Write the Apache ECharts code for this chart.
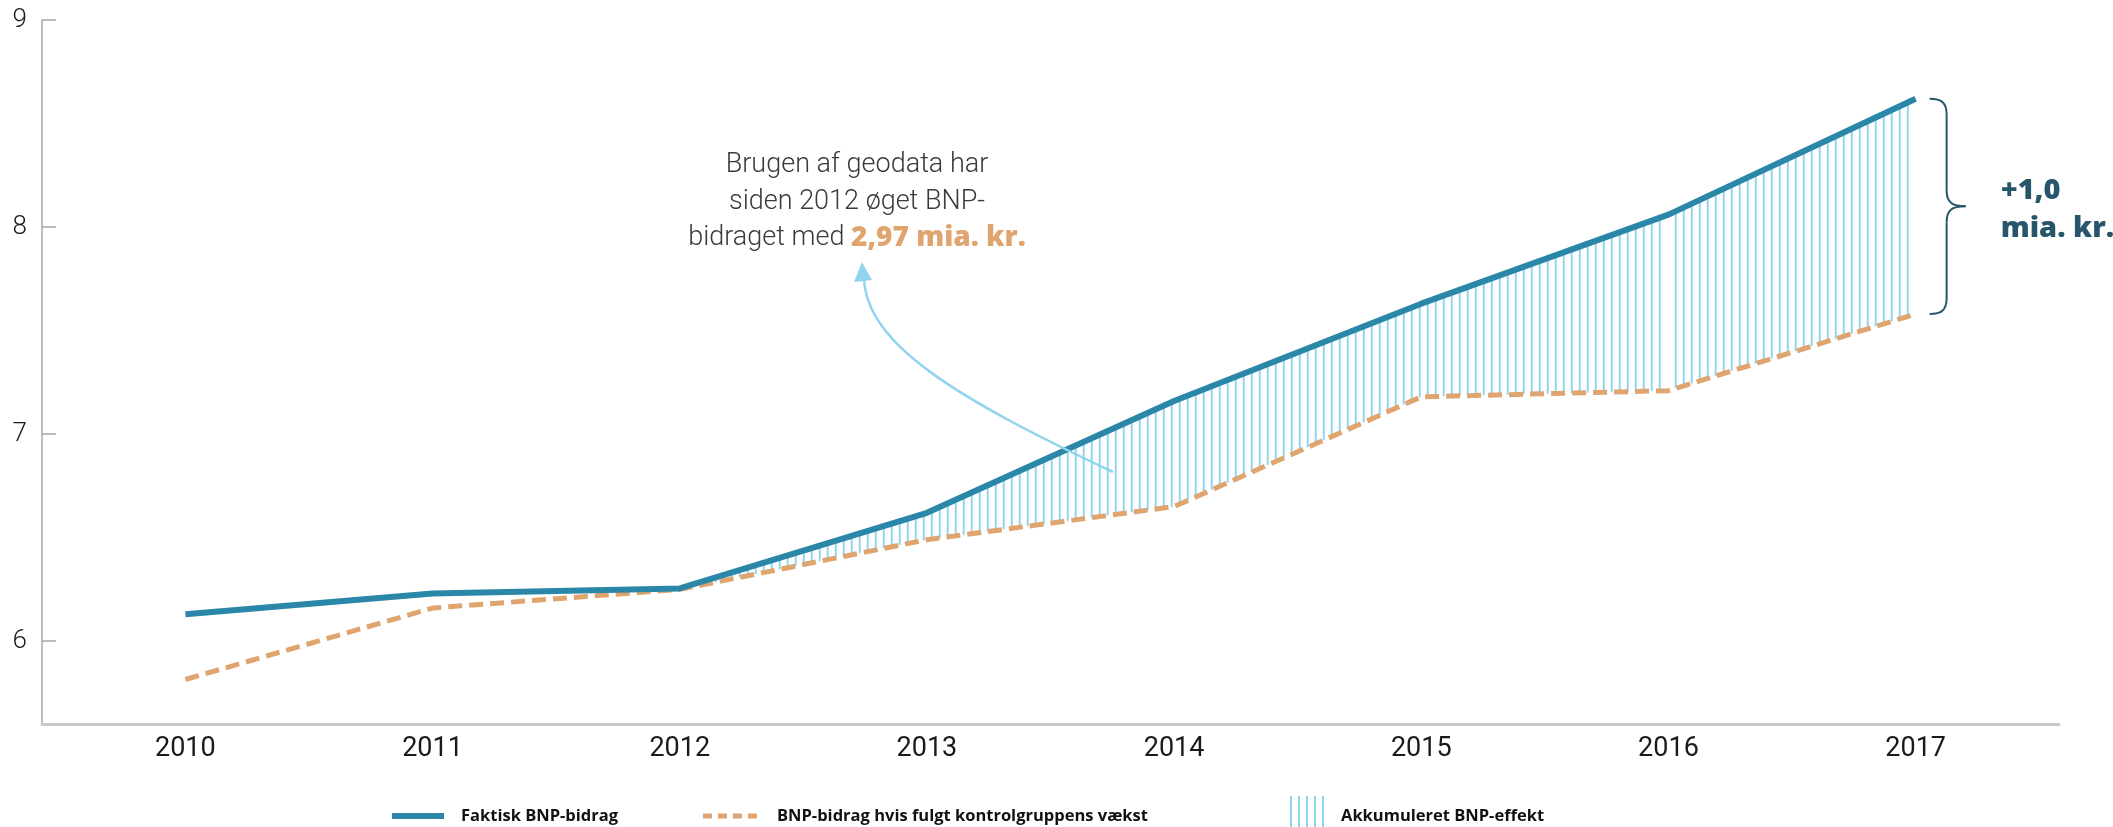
<!DOCTYPE html>
<html>
<head>
<meta charset="utf-8">
<script src="https://cdn.jsdelivr.net/npm/echarts@6/dist/echarts.min.js"></script>
<style>
  html, body { margin: 0; padding: 0; background: #fff; }
  #chart { width: 2113px; height: 827px; }
</style>
</head>
<body>
<div id="chart"></div>
<script>
// data
const years = [2010, 2011, 2012, 2013, 2014, 2015, 2016, 2017]
const actual = [6.13, 6.23, 6.255, 6.62, 7.16, 7.63, 8.06, 8.62]      // Faktisk BNP-bidrag
const control = [5.815, 6.16, 6.25, 6.49, 6.65, 7.18, 7.21, 7.58]     // BNP-bidrag hvis fulgt kontrolgruppens vækst
const yTicks = [6, 7, 8, 9]
const hatchFrom = 2012

const NAME_ACTUAL = 'Faktisk BNP-bidrag'
const NAME_CONTROL = 'BNP-bidrag hvis fulgt kontrolgruppens vækst'
const NAME_GAP = 'Akkumuleret BNP-effekt'

const BLUE = '#2b87a8'
const ORANGE = '#e0a56f'
const LIGHT = '#92d4ef'
const DARK = '#27566b'

// one item per year-segment where the gap is hatched
const startIdx = years.indexOf(hatchFrom)
const gapSegments = []
for (let i = startIdx; i < years.length - 1; i++) {
  gapSegments.push([years[i], years[i + 1], control[i], control[i + 1], actual[i], actual[i + 1]])
}

const HATCH_STEP = 8

// vertical hatch lines between the control line and the actual line
function renderHatch(params, api) {
  const origin = api.coord([hatchFrom, 6])[0] + HATCH_STEP / 2
  const b0 = api.coord([api.value(0), api.value(2)])
  const b1 = api.coord([api.value(1), api.value(3)])
  const t0 = api.coord([api.value(0), api.value(4)])
  const t1 = api.coord([api.value(1), api.value(5)])
  const children = []
  let x = origin + Math.ceil((b0[0] - origin) / HATCH_STEP) * HATCH_STEP
  for (; x < b1[0] - 1; x += HATCH_STEP) {
    const t = (x - b0[0]) / (b1[0] - b0[0])
    const yb = b0[1] + t * (b1[1] - b0[1])
    const yt = t0[1] + t * (t1[1] - t0[1])
    children.push({
      type: 'line',
      shape: { x1: x, y1: yb, x2: x, y2: yt },
      style: { stroke: LIGHT, lineWidth: 2 }
    })
  }
  return { type: 'group', children }
}

const chart = echarts.init(document.getElementById('chart'), null, { renderer: 'canvas' })

function legendText(gap) {
  return {
    color: '#111',
    fontFamily: 'Open Sans',
    fontWeight: 700,
    fontSize: 16.5,
    lineHeight: 20,
    rich: { g: { width: gap } }
  }
}

chart.setOption({
  backgroundColor: '#fff',
  animation: false,
  grid: { left: 42, right: 54, top: 20, bottom: 103, outerBoundsMode: 'none' },
  legend: [
    {
      data: [{ name: NAME_ACTUAL, icon: 'rect', itemStyle: { color: BLUE } }],
      left: 392, top: 806, padding: 0,
      itemWidth: 52, itemHeight: 6,
      selectedMode: false,
      formatter: (n) => '{g|}' + n,
      textStyle: legendText(12)
    },
    {
      data: [{
        name: NAME_CONTROL,
        icon: 'path://M0,0h9v5h-9zM15,0h9v5h-9zM30,0h9v5h-9zM45,0h9v5h-9z',
        itemStyle: { color: ORANGE }
      }],
      left: 703, top: 806, padding: 0,
      itemWidth: 54, itemHeight: 5,
      selectedMode: false,
      formatter: (n) => '{g|}' + n,
      textStyle: legendText(15)
    },
    {
      data: [{
        name: NAME_GAP,
        icon: 'path://M0,0h2v40h-2zM8,0h2v40h-2zM16,0h2v40h-2zM24,0h2v40h-2zM32,0h2v40h-2z',
        itemStyle: { color: LIGHT }
      }],
      left: 1290, top: 796, padding: 0,
      itemWidth: 34, itemHeight: 40,
      selectedMode: false,
      formatter: (n) => '{g|}' + n,
      textStyle: legendText(12)
    }
  ],
  xAxis: {
    type: 'value',
    min: 2009.42,
    max: 2017.58,
    splitLine: { show: false },
    axisTick: { show: false },
    axisLine: { onZero: false, lineStyle: { color: '#c9c9c9', width: 3 } },
    axisLabel: {
      customValues: years,
      formatter: (v) => String(v),
      margin: 12,
      color: '#1a1a1a',
      fontFamily: 'Liberation Sans Narrow, Roboto',
      fontSize: 27
    }
  },
  yAxis: {
    type: 'value',
    min: 5.6,
    max: 9,
    splitLine: { show: false },
    axisLine: { show: true, onZero: false, lineStyle: { color: '#a8a8a8', width: 1.5 } },
    axisTick: { show: true, inside: true, length: 14, customValues: yTicks, lineStyle: { color: '#a8a8a8', width: 1.5 } },
    axisLabel: {
      customValues: yTicks,
      margin: 15,
      color: '#1a1a1a',
      fontFamily: 'Roboto',
      fontWeight: 300,
      fontSize: 26
    }
  },
  series: [
    {
      name: NAME_GAP,
      type: 'custom',
      z: 1,
      renderItem: renderHatch,
      itemStyle: { color: LIGHT },
      encode: { x: [0, 1], y: [2, 3, 4, 5] },
      data: gapSegments
    },
    {
      name: NAME_CONTROL,
      type: 'line',
      z: 3,
      symbol: 'none',
      data: years.map((y, i) => [y, control[i]]),
      lineStyle: { color: ORANGE, width: 5, type: [14, 7] },
      itemStyle: { color: ORANGE }
    },
    {
      name: NAME_ACTUAL,
      type: 'line',
      z: 4,
      symbol: 'none',
      data: years.map((y, i) => [y, actual[i]]),
      lineStyle: { color: BLUE, width: 6, join: 'round' },
      itemStyle: { color: BLUE }
    }
  ]
})

// annotations: brace at 2017 anchored on the data, arrow + text
function drawAnnotations() {
  const last = years.length - 1
  const top = chart.convertToPixel({ gridIndex: 0 }, [years[last], actual[last]])
  const bot = chart.convertToPixel({ gridIndex: 0 }, [years[last], control[last]])
  const x0 = top[0] + 14
  const yT = top[1]
  const yB = bot[1]
  const yM = (yT + yB) / 2
  const sx = x0 + 17
  const braceStyle = { stroke: DARK, lineWidth: 2, fill: null }

  chart.setOption({
    graphic: [
      { type: 'bezierCurve', z: 10, shape: { x1: x0, y1: yT, cpx1: x0 + 12, cpy1: yT, cpx2: sx, cpy2: yT + 4, x2: sx, y2: yT + 16 }, style: braceStyle },
      { type: 'line', z: 10, shape: { x1: sx, y1: yT + 16, x2: sx, y2: yM - 16 }, style: braceStyle },
      { type: 'bezierCurve', z: 10, shape: { x1: sx, y1: yM - 16, cpx1: sx, cpy1: yM - 4, cpx2: sx + 5, cpy2: yM, x2: sx + 19, y2: yM }, style: braceStyle },
      { type: 'bezierCurve', z: 10, shape: { x1: sx + 19, y1: yM, cpx1: sx + 5, cpy1: yM, cpx2: sx, cpy2: yM + 4, x2: sx, y2: yM + 16 }, style: braceStyle },
      { type: 'line', z: 10, shape: { x1: sx, y1: yM + 16, x2: sx, y2: yB - 16 }, style: braceStyle },
      { type: 'bezierCurve', z: 10, shape: { x1: sx, y1: yB - 16, cpx1: sx, cpy1: yB - 4, cpx2: x0 + 12, cpy2: yB, x2: x0, y2: yB }, style: braceStyle },
      {
        type: 'text', z: 10,
        left: sx + 54, top: yM - 34,
        style: {
          text: '+1,0\nmia. kr.',
          fill: DARK,
          fontFamily: 'Open Sans',
          fontWeight: 800,
          fontSize: 29,
          lineHeight: 37.6
        }
      },
      // arrow
      {
        type: 'bezierCurve', z: 10,
        shape: { x1: 1113, y1: 472, cpx1: 960, cpy1: 400, cpx2: 866, cpy2: 345, x2: 864, y2: 278 },
        style: { stroke: LIGHT, lineWidth: 2.5, fill: null }
      },
      {
        type: 'polygon', z: 10,
        shape: { points: [[862, 262], [854, 282], [872, 280]] },
        style: { fill: LIGHT }
      },
      {
        type: 'text', z: 10,
        x: 857, y: 147,
        style: {
          text: 'Brugen af geodata har\nsiden 2012 øget BNP-\nbidraget med {b|2,97 mia. kr.}',
          align: 'center',
          verticalAlign: 'top',
          fill: '#3a3a3a',
          fontFamily: 'Roboto',
          fontWeight: 300,
          fontSize: 27,
          lineHeight: 36.5,
          rich: {
            b: { fill: ORANGE, fontFamily: 'Open Sans', fontWeight: 800, fontSize: 28, lineHeight: 36.5 }
          }
        }
      }
    ]
  })
}

drawAnnotations()
window.addEventListener('resize', () => chart.resize())
</script>
</body>
</html>
